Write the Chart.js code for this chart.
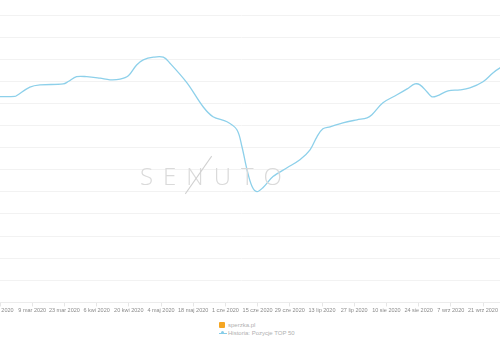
<!DOCTYPE html>
<html>
<head>
<meta charset="utf-8">
<script src="https://cdn.jsdelivr.net/npm/chart.js@4"></script>
<style>
  html, body { margin: 0; padding: 0; background: #fff; overflow: hidden; width: 500px; height: 350px; }
  #wrap { position: absolute; left: -46px; top: 0; width: 575px; height: 315px; }
  #wm { position: absolute; left: 140px; top: 161px; font-family: "Open Sans", "DejaVu Sans", sans-serif; font-weight: 300; font-size: 24px; letter-spacing: 10px; color: #dadada; line-height: 30px; white-space: nowrap; }
  #slash { position: absolute; left: 198px; top: 152px; width: 1px; height: 46px; background: #d0d0d0; transform: rotate(35deg); transform-origin: center; }
  #legend { position: absolute; left: 219px; top: 321px; font-family: "Liberation Sans", Arial, sans-serif; font-size: 6px; color: #b0b0b0; line-height: 8px; }
  .item { display: flex; align-items: center; height: 8px; }
  .sq { width: 6px; height: 6px; background: #f5a623; margin-right: 3px; border-radius: 1px; }
  .ln { position: relative; width: 8px; height: 6px; margin-right: 1px; }
  .ln::before { content: ""; position: absolute; left: 0; top: 3px; width: 8px; height: 1px; background: #87cde8; }
  .ln::after { content: ""; position: absolute; left: 2px; top: 1px; width: 3px; height: 3px; border-radius: 50%; background: #87cde8; }
</style>
</head>
<body>
<div id="wrap"><canvas id="c" width="575" height="315"></canvas></div>
<div id="wm">SENUTO</div>
<div id="slash"></div>
<div id="legend">
  <div class="item"><span class="sq"></span><span>sperzka.pl</span></div>
  <div class="item"><span class="ln"></span><span>Historia: Pozycje TOP 50</span></div>
</div>
<script>
const tickDays = [0,14,28,42,56,70,84,98,112,126,140,154,168,182,196,210];
const tickLabels = ['24 lut 2020','9 mar 2020','23 mar 2020','6 kwi 2020','20 kwi 2020','4 maj 2020','18 maj 2020','1 cze 2020','15 cze 2020','29 cze 2020','13 lip 2020','27 lip 2020','10 sie 2020','24 sie 2020','7 wrz 2020','21 wrz 2020'];
const days = [-4,0,6.5,7.3,13,17.4,27.5,29.7,33.3,37.7,43.5,47.8,52.2,55.8,59.4,62.3,66.7,71,73.9,81.3,88.3,92.6,98.7,103,105.2,107.4,109.6,111.7,114.3,118.7,124.8,130.4,134.8,137.8,140.4,143.5,149.1,155.2,159.6,161.7,166.5,172.6,177,180.4,182.6,185.7,187.8,190,194.8,200,204.3,210,214.3,217.4,221];
const positions = [3.69,3.69,3.68,3.64,3.26,3.16,3.12,3.01,2.79,2.79,2.86,2.93,2.90,2.75,2.26,2.03,1.91,1.91,2.18,3.07,4.15,4.60,4.83,5.19,5.96,7.00,7.76,7.99,7.81,7.31,6.91,6.55,6.10,5.51,5.15,5.06,4.88,4.74,4.65,4.51,3.97,3.61,3.34,3.12,3.16,3.48,3.70,3.66,3.43,3.39,3.30,3.02,2.62,2.39,2.21];

const points = days.map((d, i) => ({ x: d, y: positions[i] }));

new Chart(document.getElementById('c'), {
  type: 'line',
  data: {
    datasets: [{
      label: 'Historia: Pozycje TOP 50',
      data: points,
      borderColor: '#8dd0ea',
      borderWidth: 1.3,
      pointRadius: 0,
      fill: false,
      tension: 0.35
    }]
  },
  options: {
    responsive: false,
    devicePixelRatio: 1,
    animation: false,
    layout: { padding: { top: 15, left: 0, right: 0, bottom: 0 } },
    plugins: { legend: { display: false }, tooltip: { enabled: false } },
    scales: {
      x: {
        type: 'linear',
        min: -20,
        max: 230,
        afterBuildTicks: (ax) => { ax.ticks = tickDays.map(v => ({ value: v })); },
        ticks: {
          autoSkip: false,
          maxRotation: 0,
          padding: 1,
          color: '#8a8a8a',
          font: { family: 'Liberation Sans, Arial, sans-serif', size: 5.5 },
          callback: (v, i) => tickLabels[i]
        },
        grid: { drawOnChartArea: false, drawTicks: true, tickLength: 4, color: '#e6e6e6' },
        border: { display: true, color: '#ececec' }
      },
      y: {
        reverse: true,
        min: 0,
        max: 13,
        ticks: { display: false, stepSize: 1 },
        grid: { color: '#f2f2f2', drawTicks: false },
        border: { display: false }
      }
    }
  }
});
</script>
</body>
</html>
